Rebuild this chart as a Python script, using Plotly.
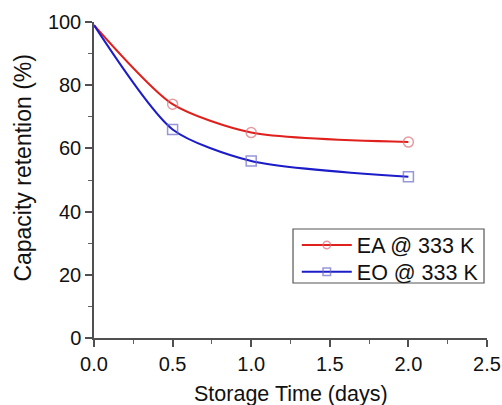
import plotly.graph_objects as go

days = [0.0, 0.5, 1.0, 2.0]
ea_retention = [99, 74, 65, 62]
eo_retention = [99, 66, 56, 51]
series_names = ["EA @ 333 K", "EO @ 333 K"]

FONT = "Liberation Sans, Arial, sans-serif"
marker_sizes = [0, 10, 10, 10]

fig = go.Figure()
fig.add_trace(go.Scatter(
    x=days, y=ea_retention, name=series_names[0], mode="lines+markers",
    line=dict(color="#e0201c", width=2, shape="spline", smoothing=0.7),
    marker=dict(symbol="circle-open", size=marker_sizes, color="#d8707a",
                line=dict(width=1.5, color="#d8707a")),
    cliponaxis=False, legend="legend",
))
fig.add_trace(go.Scatter(
    x=days, y=eo_retention, name=series_names[1], mode="lines+markers",
    line=dict(color="#1c1cc8", width=2, shape="spline", smoothing=0.7),
    marker=dict(symbol="square-open", size=marker_sizes, color="#6a6ac8",
                line=dict(width=1.5, color="#6a6ac8")),
    cliponaxis=False, legend="legend2",
))

axis_common = dict(
    showgrid=False, zeroline=False, showline=True, linecolor="#505050", linewidth=1.5,
    ticks="outside", ticklen=7, tickwidth=1.5, tickcolor="#505050",
    tickfont=dict(family=FONT, size=20, color="#111"),
    mirror=False, automargin=False,
)

fig.update_xaxes(
    range=[0, 2.5], dtick=0.5, tickformat=".1f",
    minor=dict(ticks="outside", ticklen=4, tickwidth=1.2, tickcolor="#606060", dtick=0.25),
    **axis_common,
)
fig.update_yaxes(
    range=[0, 100], dtick=20,
    minor=dict(ticks="outside", ticklen=4, tickwidth=1.2, tickcolor="#606060", dtick=10),
    **axis_common,
)

fig.add_annotation(
    text="Capacity retention (%)", xref="paper", yref="paper",
    x=-0.18, y=0.54, xanchor="center", yanchor="middle", textangle=-90,
    showarrow=False, font=dict(family=FONT, size=23, color="#111"),
)
fig.add_annotation(
    text="Storage Time (days)", xref="paper", yref="paper",
    x=0.5, y=-0.177, xanchor="center", yanchor="middle",
    showarrow=False, font=dict(family=FONT, size=21.5, color="#111"),
)

fig.add_shape(
    type="rect", xref="paper", yref="paper",
    x0=0.5064, x1=0.9924, y0=0.174, y1=0.345,
    line=dict(color="#555", width=1.2), fillcolor="rgba(0,0,0,0)",
)

legend_common = dict(
    x=0.516, xanchor="left", yanchor="middle",
    bgcolor="rgba(0,0,0,0)", borderwidth=0,
    font=dict(family=FONT, size=21.5, color="#111"),
    itemwidth=50,
)

fig.update_layout(
    width=502, height=405,
    margin=dict(l=94, r=15, t=22, b=67),
    paper_bgcolor="white", plot_bgcolor="white",
    font=dict(family=FONT, color="#111"),
    showlegend=True,
    legend=dict(y=0.2943, **legend_common),
    legend2=dict(y=0.2098, **legend_common),
)

fig.write_html("out.html")
